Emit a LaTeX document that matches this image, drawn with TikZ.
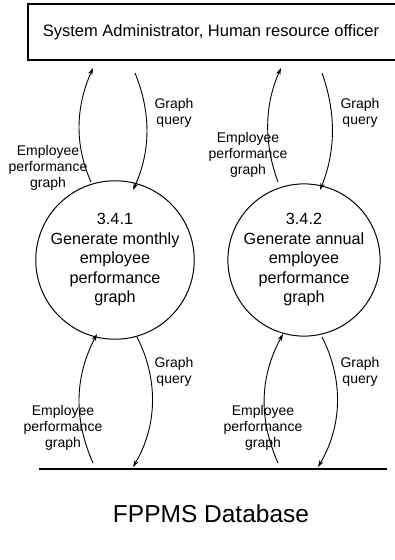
\documentclass[tikz,border=0pt]{standalone}
\usepackage{fontspec}
\setmainfont{Liberation Sans}
\usetikzlibrary{arrows.meta}
\begin{document}
\begin{tikzpicture}[x=1pt,y=-1pt,
  flow/.style={line width=0.9pt,-{Stealth[length=7pt,width=4.5pt]}},
  procbox/.style={circle,draw,line width=1pt,minimum size=140pt,inner sep=0pt,align=center,
    font=\fontsize{16.2}{19.5}\selectfont},
  lbl/.style={align=center,inner sep=0pt,font=\fontsize{14}{16}\selectfont}]
\useasboundingbox (0,0) rectangle (395,560);
% external entity box (right side cut off by picture edge)
\draw[line width=1.3pt] (398,4) -- (28,4) -- (28,60) -- (398,60);
\node[inner sep=0pt,font=\fontsize{16.5}{19}\selectfont] (ent) at (211,32) {System Administrator, Human resource officer};
% processes
\node[procbox] (p1) at (115,260) {3.4.1\\Generate monthly\\employee\\performance\\graph};
\node[procbox] (p2) at (304,260) {3.4.2\\Generate annual\\employee\\performance\\graph};
% data store
\coordinate (dbl) at (39,469);
\coordinate (dbr) at (387,469);
\draw[line width=1.3pt] (dbl) -- (dbr);
\node[inner sep=0pt,font=\fontsize{24.5}{28}\selectfont] (db) at (211,514) {FPPMS Database};
% endpoints
\coordinate (a1s) at (91,182);  \coordinate (a1e) at (93,68);
\coordinate (b1s) at (135,73);  \coordinate (b1e) at (133,190);
\coordinate (a2s) at (278,182); \coordinate (a2e) at (281,68);
\coordinate (b2s) at (322,73);  \coordinate (b2e) at (320,190);
\coordinate (c1s) at (93,463);  \coordinate (c1e) at (97,334);
\coordinate (d1s) at (137,337); \coordinate (d1e) at (133,467);
\coordinate (c2s) at (278,463); \coordinate (c2e) at (283,334);
\coordinate (d2s) at (322,337); \coordinate (d2e) at (318,467);
% top flows
\draw[flow] (a1s) .. controls (74,144) and (76,106) .. (a1e);
\draw[flow] (b1s) .. controls (151,112) and (151,151) .. (b1e);
\draw[flow] (a2s) .. controls (264,144) and (264,106) .. (a2e);
\draw[flow] (b2s) .. controls (336,112) and (336,151) .. (b2e);
% bottom flows
\draw[flow] (c1s) .. controls (74,420) and (74,378) .. (c1e);
\draw[flow] (d1s) .. controls (158,378) and (158,425) .. (d1e);
\draw[flow] (c2s) .. controls (259,420) and (259,378) .. (c2e);
\draw[flow] (d2s) .. controls (343,378) and (343,425) .. (d2e);
% labels
\node[lbl] (l1) at (174,113) {Graph\\query};
\node[lbl] (l2) at (360,113) {Graph\\query};
\node[lbl] (l3) at (48,168) {Employee\\performance\\graph};
\node[lbl] (l4) at (248,155) {Employee\\performance\\graph};
\node[lbl] (l5) at (174,372) {Graph\\query};
\node[lbl] (l6) at (360,372) {Graph\\query};
\node[lbl] (l7) at (63,428) {Employee\\performance\\graph};
\node[lbl] (l8) at (263,428) {Employee\\performance\\graph};
\end{tikzpicture}
\end{document}
